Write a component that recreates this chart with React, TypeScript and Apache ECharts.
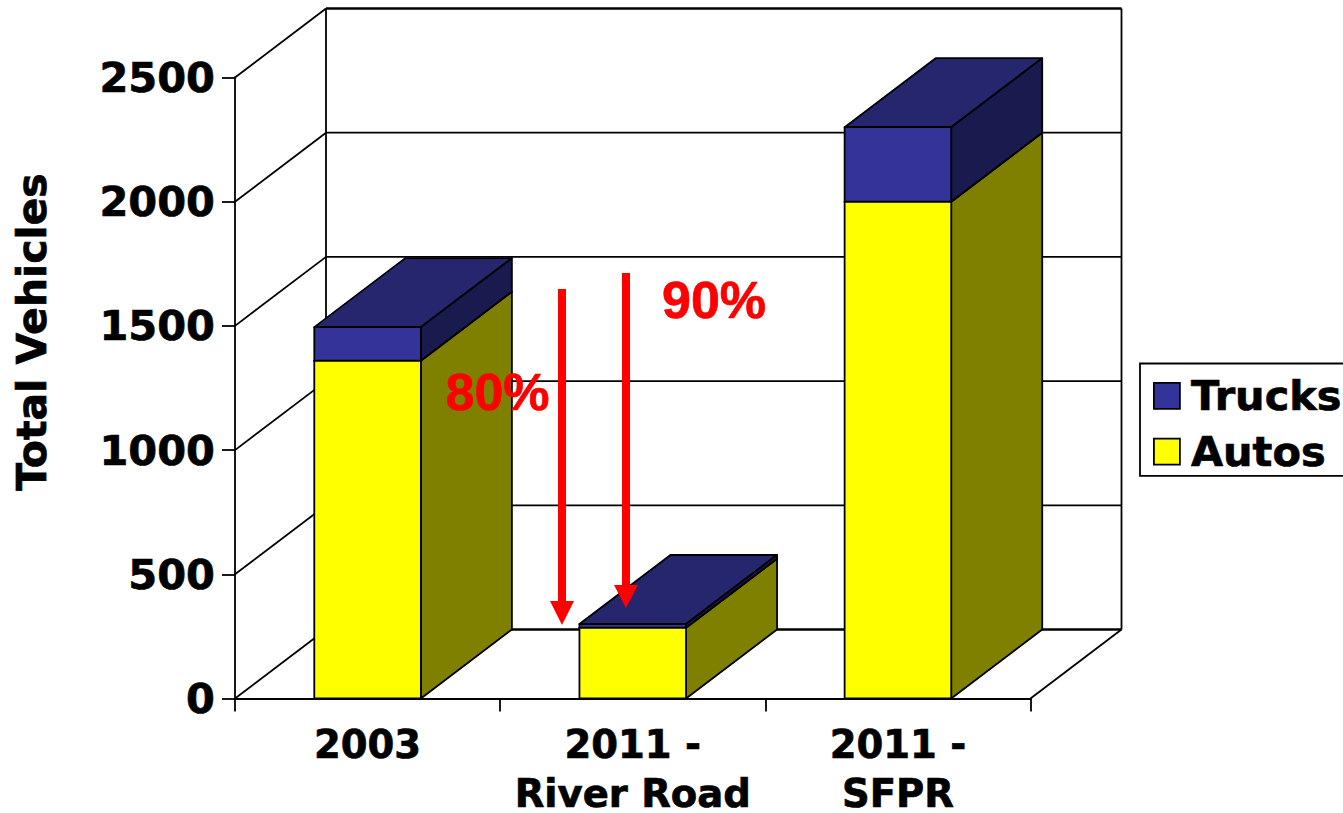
import React, { useEffect, useRef } from "react";
import * as echarts from "echarts";

const categories = ["2003", "2011 -\nRiver Road", "2011 -\nSFPR"];
const autos = [1360, 285, 2000];
const trucks = [135, 15, 300];
const yTicks = [0, 500, 1000, 1500, 2000, 2500];
const legendNames = ["Trucks", "Autos"];
const yTitle = "Total Vehicles";
const drops = ["80%", "90%"];

const DX = 91;
const DY = 69;
const FONT = "DejaVu Sans";
const LW = 1.8;
const HEAVY = { textBorderColor: "#000", textBorderWidth: 0.7 };

function box(api: any, front: string, top: string, side: string) {
  const i = api.value(0);
  const base = api.coord([i, api.value(1)]);
  const head = api.coord([i, api.value(2)]);
  const half = api.size([1, 0])[0] * 0.402 / 2;
  const xl = base[0] - half;
  const xr = base[0] + half;
  const yb = base[1];
  const yt = head[1];
  const stroke = { stroke: "#000", lineWidth: LW, lineJoin: "round" };
  return {
    type: "group",
    children: [
      { type: "polygon", shape: { points: [[xl, yt], [xl + DX, yt - DY], [xr + DX, yt - DY], [xr, yt]] }, style: { fill: top, ...stroke } },
      { type: "polygon", shape: { points: [[xr, yb], [xr + DX, yb - DY], [xr + DX, yt - DY], [xr, yt]] }, style: { fill: side, ...stroke } },
      { type: "polygon", shape: { points: [[xl, yb], [xr, yb], [xr, yt], [xl, yt]] }, style: { fill: front, ...stroke } },
    ],
  };
}

function walls(params: any, api: any) {
  const cs = params.coordSys;
  const v = api.value(0);
  const y = api.coord([0, v])[1];
  const x0 = cs.x;
  const x1 = cs.x + cs.width;
  const line = { stroke: "#000", lineWidth: LW, fill: "none" };
  const children: any[] = [
    { type: "polyline", shape: { points: [[x0 + DX, y - DY], [x1 + DX, y - DY]] }, style: { ...line, lineWidth: v === 0 || v === 2500 ? 2.6 : LW } },
    { type: "line", shape: { x1: x0, y1: y, x2: x0 + DX, y2: y - DY }, style: line },
  ];
  if (v === 0) {
    const top = cs.y - DY;
    children.push(
      { type: "line", shape: { x1: x0 + DX, y1: y - DY, x2: x0 + DX, y2: top }, style: line },
      { type: "line", shape: { x1: x1 + DX, y1: y - DY, x2: x1 + DX, y2: top }, style: line },
      { type: "line", shape: { x1, y1: y, x2: x1 + DX, y2: y - DY }, style: line },
    );
  }
  return { type: "group", children };
}

function arrow(x: number, top: number, headTop: number, tip: number) {
  return [
    { type: "rect", shape: { x: x - 4, y: top, width: 8, height: headTop - top + 1 }, style: { fill: "#ff0000" }, z: 20 },
    { type: "polygon", shape: { points: [[x - 12, headTop], [x + 12, headTop], [x, tip]] }, style: { fill: "#ff0000" }, z: 20 },
  ];
}

export default function App() {
  const ref = useRef<HTMLDivElement>(null);
  useEffect(() => {
    const chart = echarts.init(ref.current!, undefined, { renderer: "svg" });
    const autoData = autos.map((a, i) => [i, 0, a]);
    const truckData = trucks.map((t, i) => [i, autos[i], autos[i] + t]);
    chart.setOption({
      animation: false,
      backgroundColor: "#fff",
      grid: { left: 235, top: 77.5, width: 795.5, height: 621, containLabel: false, outerBoundsMode: "none" },
      xAxis: {
        type: "category",
        data: categories,
        axisLine: { show: true, lineStyle: { color: "#000", width: 2 } },
        axisTick: { show: true, length: 13, lineStyle: { color: "#000", width: LW } },
        axisLabel: { color: "#000", fontFamily: FONT, fontWeight: "bold", fontSize: 38.5, lineHeight: 49, margin: 21, interval: 0, hideOverlap: false, ...HEAVY },
        splitLine: { show: false },
      },
      yAxis: {
        type: "value",
        min: 0,
        max: 2500,
        interval: 500,
        axisLine: { show: true, lineStyle: { color: "#000", width: LW } },
        axisTick: { show: true, length: 13, lineStyle: { color: "#000", width: LW } },
        axisLabel: { color: "#000", fontFamily: FONT, fontWeight: "bold", fontSize: 41.5, margin: 20, formatter: (v: number) => String(v), ...HEAVY },
        splitLine: { show: false },
      },
      legend: {
        left: 1140,
        top: 363.5,
        orient: "vertical",
        icon: "rect",
        itemWidth: 26,
        itemHeight: 26,
        itemGap: 13,
        padding: [11, 20, 3, 13],
        borderColor: "#000",
        borderWidth: 1.8,
        backgroundColor: "#fff",
        selectedMode: false,
        textStyle: { color: "#000", fontFamily: FONT, fontWeight: "bold", fontSize: 41.5, padding: [0, 0, 0, 6], ...HEAVY },
        data: [
          { name: legendNames[0], itemStyle: { color: "#333399", borderColor: "#000", borderWidth: 1.8 } },
          { name: legendNames[1], itemStyle: { color: "#ffff00", borderColor: "#000", borderWidth: 1.8 } },
        ],
      },
      series: [
        { type: "custom", name: "walls", z: 1, silent: true, data: yTicks.map((v) => [v]), encode: { y: 0 }, renderItem: walls },
        {
          type: "custom", name: legendNames[1], z: 2, itemStyle: { color: "#ffff00" }, data: autoData,
          encode: { x: 0, y: [1, 2] },
          renderItem: (_: any, api: any) => box(api, "#ffff00", "#bfbf00", "#808000"),
        },
        {
          type: "custom", name: legendNames[0], z: 3, itemStyle: { color: "#333399" }, data: truckData,
          encode: { x: 0, y: [1, 2] },
          renderItem: (_: any, api: any) => box(api, "#333399", "#26266f", "#191a4d"),
        },
      ],
      graphic: [
        {
          type: "text", x: 32, y: 332, rotation: Math.PI / 2,
          style: { text: yTitle, fill: "#000", font: `bold 41px "${FONT}"`, align: "center", verticalAlign: "middle", stroke: "#000", lineWidth: 0.7 },
        },
        ...arrow(562, 289, 601, 625),
        ...arrow(626, 273, 585, 608),
        {
          type: "text", x: 497.5, y: 392, z: 21,
          style: { text: drops[0], fill: "#ff0000", font: 'bold 52px "Liberation Sans"', align: "center", verticalAlign: "middle", stroke: "#ff0000", lineWidth: 0.7 },
        },
        {
          type: "text", x: 714, y: 300, z: 21,
          style: { text: drops[1], fill: "#ff0000", font: 'bold 52px "Liberation Sans"', align: "center", verticalAlign: "middle", stroke: "#ff0000", lineWidth: 0.7 },
        },
      ],
    });
    return () => chart.dispose();
  }, []);
  return <div ref={ref} style={{ position: "absolute", left: 0, top: 0, width: 1343, height: 813 }} />;
}
